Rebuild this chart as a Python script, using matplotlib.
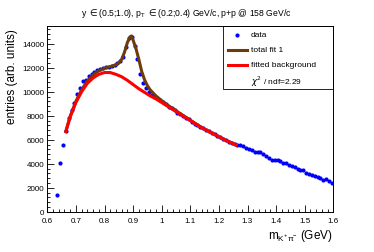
import matplotlib
matplotlib.use("Agg")
import matplotlib.pyplot as plt
from matplotlib.ticker import MultipleLocator
import numpy as np

plt.rcParams['font.family'] = ['Liberation Sans', 'DejaVu Sans']

# data points (bin centers, entries)
masa = np.round(np.arange(0.635, 1.6, 0.01), 3)
entradas = [
    1400, 4100, 5600, 6700, 7800, 8500, 9100, 9800, 10300, 10900,
    11000, 11300, 11500, 11650, 11800, 11900, 11950, 12050, 12100, 12150,
    12250, 12400, 12600, 12900, 13700, 14500, 14600, 13800, 12700, 11500,
    10700, 10300, 9950, 9750, 9550, 9450, 9300, 9150, 9000, 8750,
    8650, 8450, 8250, 8150, 7950, 7800, 7700, 7500, 7350, 7200,
    7050, 6950, 6800, 6700, 6550, 6450, 6300, 6200, 6050, 5950,
    5850, 5700, 5650, 5600, 5550, 5450, 5300, 5200, 5150, 5000,
    4950, 4950, 4800, 4650, 4500, 4350, 4300, 4350, 4200, 4100,
    4050, 3900, 3800, 3700, 3600, 3500, 3450, 3250, 3150, 3050,
    2950, 2900, 2800, 2650, 2700, 2600, 2400,
]

# fitted background
fondo_x = [0.665, 0.68, 0.70, 0.72, 0.74, 0.76, 0.78, 0.80, 0.82, 0.84,
           0.86, 0.88, 0.90, 0.92, 0.94, 0.96, 0.98, 1.00, 1.02, 1.04,
           1.06, 1.08, 1.10, 1.12, 1.14, 1.16, 1.18, 1.20, 1.22, 1.24, 1.26]
fondo_y = [6700, 7900, 9100, 10000, 10700, 11150, 11450, 11600, 11600, 11450,
           11250, 10950, 10600, 10250, 9950, 9650, 9400, 9100, 8800, 8500,
           8200, 7900, 7600, 7300, 7000, 6750, 6500, 6250, 6000, 5780, 5560]

# total fit 1
total_x = [0.665, 0.68, 0.70, 0.72, 0.74, 0.76, 0.78, 0.80, 0.82, 0.84,
           0.85, 0.86, 0.87, 0.88, 0.89, 0.895, 0.90, 0.91, 0.92, 0.93,
           0.94, 0.95, 0.96, 0.98, 1.00, 1.02, 1.04, 1.06, 1.08, 1.10,
           1.12, 1.14, 1.16, 1.18, 1.20, 1.22, 1.24, 1.26]
total_y = [6700, 7950, 9200, 10150, 10900, 11400, 11750, 11950, 12100, 12250,
           12400, 12700, 13300, 14100, 14600, 14650, 14300, 13600, 12700, 11700,
           11000, 10500, 10150, 9650, 9250, 8900, 8580, 8260, 7940, 7630,
           7320, 7020, 6760, 6505, 6255, 6005, 5782, 5560]

W, H = 374, 253
fig = plt.figure(figsize=(W / 100, H / 100), dpi=100)
ax = fig.add_axes([47.3 / W, 1 - 212.7 / H, (333.3 - 47.3) / W, (212.7 - 27) / H])

ax.plot(masa, entradas, 'o', color='#0000ff', markersize=3, markeredgewidth=0, zorder=2)
ax.plot(total_x, total_y, '-', color='#6b3d0b', linewidth=2.2, zorder=3)
ax.plot(fondo_x, fondo_y, '-', color='#ff0000', linewidth=2.2, zorder=4)

ax.set_xlim(0.6, 1.6)
ax.set_ylim(0, 15480)
ax.xaxis.set_major_locator(MultipleLocator(0.1))
ax.xaxis.set_minor_locator(MultipleLocator(0.02))
ax.yaxis.set_major_locator(MultipleLocator(2000))
ax.yaxis.set_minor_locator(MultipleLocator(400))
ax.xaxis.set_major_formatter(plt.FuncFormatter(lambda v, p: f"{v:g}"))
ax.tick_params(which='both', direction='in', top=False, right=False, labelsize=5.8)
ax.tick_params(axis='x', pad=4)
ax.tick_params(axis='y', pad=2)
ax.tick_params(which='major', length=5, width=0.6)
ax.tick_params(which='minor', length=2.5, width=0.6)
for s in ax.spines.values():
    s.set_linewidth(0.7)

fig.text(186 / W, 1 - 13 / H, r"y $\in$(0.5;1.0), p$_{\mathregular{T}}$ $\in$(0.2;0.4) GeV/c, p+p @ 158 GeV/c",
         ha='center', va='center', fontsize=6.2)
fig.text(12 / W, 1 - 29 / H, "entries (arb. units)", rotation=90, ha='center', va='top', fontsize=8.5)
fig.text(333 / W, 1 - 236 / H, r"m$_{\mathregular{K^{+}\pi^{-}}}$ (GeV)", ha='right', va='center', fontsize=8.5)

# legend box
def fx(px):
    return (px - 47.3) / (333.3 - 47.3)

def fy(py):
    return (212.7 - py) / (212.7 - 27)

ax.add_patch(plt.Rectangle((fx(223), fy(89.5)), fx(333.3) - fx(223), fy(27) - fy(89.5),
                           transform=ax.transAxes, fill=False, edgecolor='black', linewidth=0.6,
                           clip_on=False, zorder=5))
ax.plot([fx(237)], [fy(35.7)], 'o', color='#0000ff', markersize=3, markeredgewidth=0,
        transform=ax.transAxes, clip_on=False, zorder=6)
ax.plot([fx(228), fx(247)], [fy(51), fy(51)], '-', color='#6b3d0b', linewidth=2.2,
        transform=ax.transAxes, clip_on=False, zorder=6)
ax.plot([fx(228), fx(247)], [fy(66), fy(66)], '-', color='#ff0000', linewidth=2.2,
        transform=ax.transAxes, clip_on=False, zorder=6)
etiquetas = ["data", "total fit 1", "fitted background", r"$\chi^{2}$ / ndf=2.29"]
for i, (txt, py) in enumerate(zip(etiquetas, [35.7, 51, 66, 81.7])):
    ax.text(fx(251), fy(py), txt, transform=ax.transAxes, ha='left', va='center',
            fontsize=6, zorder=6)

fig.savefig("out.png", dpi=100)
